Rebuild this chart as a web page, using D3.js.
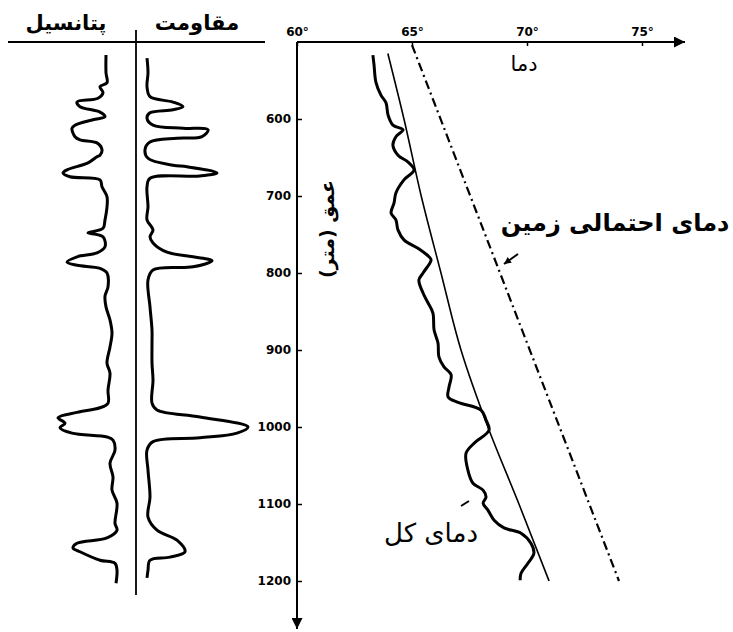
<!DOCTYPE html>
<html>
<head>
<meta charset="utf-8">
<script src="https://cdn.jsdelivr.net/npm/d3@7"></script>
<style>
  body { margin: 0; background: #fff; }
  svg { display: block; }
</style>
</head>
<body>
<svg id="chart"></svg>
<script>
// depth ticks (m) and temperature ticks (deg)
var depthTicks = [600, 700, 800, 900, 1000, 1100, 1200];
var tempTicks = [60, 65, 70, 75];

// spontaneous potential log (depth, mV)
var spDepth = [517, 540, 553, 558, 566, 573, 578, 584, 591, 597, 601, 608, 612, 623, 627, 631, 640, 647, 649, 657, 666, 670, 675, 679, 688, 701, 714, 731, 742, 747, 748, 753, 766, 774, 779, 786, 790, 794, 800, 818, 830, 844, 861, 878, 896, 917, 930, 952, 969, 975, 981, 988, 995, 1001, 1008, 1013, 1017, 1030, 1047, 1065, 1082, 1099, 1125, 1134, 1144, 1151, 1157, 1162, 1173, 1177, 1186, 1203];
var spValue = [-9, -9, -8, -15, -12, -17, -38, -35, -15, -10, -22, -40, -43, -40, -35, -18, -13, -15, -18, -27, -48, -52, -45, -15, -13, -8, -8, -10, -12, -25, -27, -12, -10, -18, -38, -48, -38, -15, -8, -7, -10, -9, -5, -3, -5, -8, -5, -7, -7, -15, -38, -57, -50, -55, -43, -8, -2, 0, -5, -2, -3, 2, 0, 2, -8, -38, -42, -35, -15, 0, 2, 1];

// resistivity log (depth, ohm-m)
var resDepth = [521, 540, 558, 571, 578, 584, 588, 592, 599, 608, 612, 614, 623, 625, 630, 640, 651, 660, 662, 670, 674, 677, 688, 714, 731, 744, 753, 761, 773, 779, 784, 792, 796, 809, 844, 874, 891, 917, 939, 969, 978, 987, 1000, 1008, 1014, 1019, 1030, 1056, 1091, 1117, 1134, 1147, 1162, 1169, 1173, 1186, 1196];
var resValue = [7, 8, 7, 10, 33, 43, 33, 10, 7, 13, 43, 68, 62, 37, 10, 5, 8, 33, 47, 77, 60, 10, 7, 8, 7, 13, 10, 13, 27, 53, 72, 53, 13, 8, 10, 12, 12, 12, 13, 12, 17, 60, 108, 97, 60, 13, 7, 8, 10, 8, 17, 37, 45, 30, 10, 8, 7];

// total (measured) temperature
var totalDepth = [517, 530, 552, 569, 579, 595, 608, 614, 623, 634, 647, 656, 666, 679, 696, 709, 722, 731, 744, 757, 768, 779, 783, 800, 809, 826, 839, 852, 874, 891, 909, 922, 932, 948, 961, 968, 978, 991, 1004, 1021, 1034, 1056, 1073, 1082, 1091, 1099, 1108, 1121, 1131, 1138, 1151, 1164, 1177, 1190, 1199];
var totalTemp = [63.30, 63.35, 63.43, 63.65, 63.87, 63.96, 64.17, 64.61, 64.30, 64.17, 64.39, 64.83, 65.09, 64.65, 64.30, 64.22, 64.09, 64.30, 64.39, 64.65, 65.26, 65.74, 65.83, 65.48, 65.30, 65.48, 65.70, 65.91, 65.96, 66.13, 66.17, 66.39, 66.70, 66.61, 66.57, 67.00, 68.00, 68.22, 68.35, 67.70, 67.35, 67.43, 67.65, 68.09, 68.22, 68.09, 68.30, 68.57, 69.00, 69.74, 70.17, 70.30, 70.04, 69.74, 69.70];

// gradient line
var gradDepth = [515, 600, 700, 800, 900, 1000, 1100, 1200];
var gradTemp = [63.95, 64.65, 65.40, 66.26, 67.13, 68.30, 69.65, 70.96];

// probable formation temperature
var formDepth = [504, 1200];
var formTemp = [65.0, 74.0];

var width = 733, height = 632;
var svg = d3.select("#chart").attr("width", width).attr("height", height);

var y = d3.scaleLinear().domain([500, 1200]).range([42, 581]);
var x = d3.scaleLinear().domain([60, 75]).range([297, 642]);
var spX = d3.scaleLinear().domain([-60, 5]).range([55, 120]);
var resX = d3.scaleLinear().domain([0, 120]).range([140, 260]);

var fontFa = "'DejaVu Sans', sans-serif";

// arrow markers
var defs = svg.append("defs");
defs.append("marker").attr("id", "arr").attr("viewBox", "0 0 10 10")
  .attr("refX", 10).attr("refY", 5).attr("markerWidth", 16).attr("markerHeight", 11)
  .attr("markerUnits", "userSpaceOnUse").attr("orient", "auto")
  .append("path").attr("d", "M0,0 L10,5 L0,10 Z").attr("fill", "#000");
defs.append("marker").attr("id", "arrSmall").attr("viewBox", "0 0 10 10")
  .attr("refX", 10).attr("refY", 5).attr("markerWidth", 9).attr("markerHeight", 7)
  .attr("markerUnits", "userSpaceOnUse").attr("orient", "auto")
  .append("path").attr("d", "M0,0 L10,5 L0,10 Z").attr("fill", "#000");

// ---- logs header ----
svg.append("line").attr("x1", 8).attr("x2", 265).attr("y1", 42).attr("y2", 42)
  .attr("stroke", "#000").attr("stroke-width", 1.8);
svg.append("line").attr("x1", 136).attr("x2", 136).attr("y1", 30).attr("y2", 595)
  .attr("stroke", "#000").attr("stroke-width", 1.8);

svg.append("text").attr("x", 66).attr("y", 30).attr("text-anchor", "middle")
  .attr("direction", "rtl").attr("font-family", fontFa).attr("font-weight", "bold")
  .attr("font-size", 21).text("پتانسیل");
svg.append("text").attr("x", 197).attr("y", 30).attr("text-anchor", "middle")
  .attr("direction", "rtl").attr("font-family", fontFa).attr("font-weight", "bold")
  .attr("font-size", 21).text("مقاومت");

var spLine = d3.line()
  .x(function(d, i) { return spX(spValue[i]); })
  .y(function(d) { return y(d); })
  .curve(d3.curveCatmullRom.alpha(0.5));
svg.append("path").datum(spDepth).attr("d", spLine)
  .attr("fill", "none").attr("stroke", "#000").attr("stroke-width", 3)
  .attr("stroke-linejoin", "round");

var resLine = d3.line()
  .x(function(d, i) { return resX(resValue[i]); })
  .y(function(d) { return y(d); })
  .curve(d3.curveCatmullRom.alpha(0.5));
svg.append("path").datum(resDepth).attr("d", resLine)
  .attr("fill", "none").attr("stroke", "#000").attr("stroke-width", 3)
  .attr("stroke-linejoin", "round");

// ---- temperature axis ----
var xAxis = d3.axisTop(x).tickValues(tempTicks)
  .tickSizeInner(-4).tickSizeOuter(0).tickPadding(6)
  .tickFormat(function(d) { return d + "°"; });
var gx = svg.append("g").attr("transform", "translate(0,42)").call(xAxis);
gx.select(".domain").remove();
gx.selectAll("line").attr("stroke-width", 1.5);
gx.selectAll("text").attr("font-family", "'DejaVu Sans', sans-serif")
  .attr("font-weight", "bold").attr("font-size", 12);
svg.append("line").attr("x1", 297).attr("x2", 685).attr("y1", 42).attr("y2", 42)
  .attr("stroke", "#000").attr("stroke-width", 2).attr("marker-end", "url(#arr)");

// ---- depth axis ----
var yAxis = d3.axisLeft(y).tickValues(depthTicks)
  .tickSizeInner(-5).tickSizeOuter(0).tickPadding(6)
  .tickFormat(d3.format("d"));
var gy = svg.append("g").attr("transform", "translate(297,0)").call(yAxis);
gy.select(".domain").remove();
gy.selectAll("line").attr("stroke-width", 1.5);
gy.selectAll("text").attr("font-family", "'DejaVu Sans', sans-serif")
  .attr("font-weight", "bold").attr("font-size", 12);
svg.append("line").attr("x1", 297).attr("x2", 297).attr("y1", 42).attr("y2", 629)
  .attr("stroke", "#000").attr("stroke-width", 2).attr("marker-end", "url(#arr)");

svg.append("text").attr("x", 524).attr("y", 71).attr("text-anchor", "middle")
  .attr("direction", "rtl").attr("font-family", fontFa).attr("font-size", 21)
  .text("دما");

svg.append("text")
  .attr("transform", "translate(334,229) rotate(-90)")
  .attr("text-anchor", "middle").attr("direction", "rtl")
  .attr("font-family", fontFa).attr("font-weight", "bold").attr("font-size", 19)
  .text("عمق (متر)");

// ---- temperature curves ----
var formLine = d3.line()
  .x(function(d, i) { return x(formTemp[i]); })
  .y(function(d) { return y(d); });
svg.append("path").datum(formDepth).attr("d", formLine)
  .attr("fill", "none").attr("stroke", "#000").attr("stroke-width", 2.2)
  .attr("stroke-dasharray", "9,4,2,4");

var gradLine = d3.line()
  .x(function(d, i) { return x(gradTemp[i]); })
  .y(function(d) { return y(d); })
  .curve(d3.curveMonotoneY);
svg.append("path").datum(gradDepth).attr("d", gradLine)
  .attr("fill", "none").attr("stroke", "#000").attr("stroke-width", 1.6);

var totalLine = d3.line()
  .x(function(d, i) { return x(totalTemp[i]); })
  .y(function(d) { return y(d); })
  .curve(d3.curveCatmullRom.alpha(0.5));
svg.append("path").datum(totalDepth).attr("d", totalLine)
  .attr("fill", "none").attr("stroke", "#000").attr("stroke-width", 3)
  .attr("stroke-linejoin", "round");

// ---- annotations ----
svg.append("text").attr("x", 615).attr("y", 231).attr("text-anchor", "middle")
  .attr("direction", "rtl").attr("font-family", fontFa).attr("font-weight", "bold")
  .attr("font-size", 24).text("دمای احتمالی زمین");
svg.append("line").attr("x1", 518).attr("y1", 254).attr("x2", 504).attr("y2", 264)
  .attr("stroke", "#000").attr("stroke-width", 2).attr("marker-end", "url(#arrSmall)");

svg.append("text").attr("x", 431).attr("y", 542).attr("text-anchor", "middle")
  .attr("direction", "rtl").attr("font-family", fontFa)
  .attr("font-size", 26).text("دمای کل");
svg.append("line").attr("x1", 461).attr("y1", 506).attr("x2", 469).attr("y2", 501)
  .attr("stroke", "#000").attr("stroke-width", 2);
</script>
</body>
</html>
